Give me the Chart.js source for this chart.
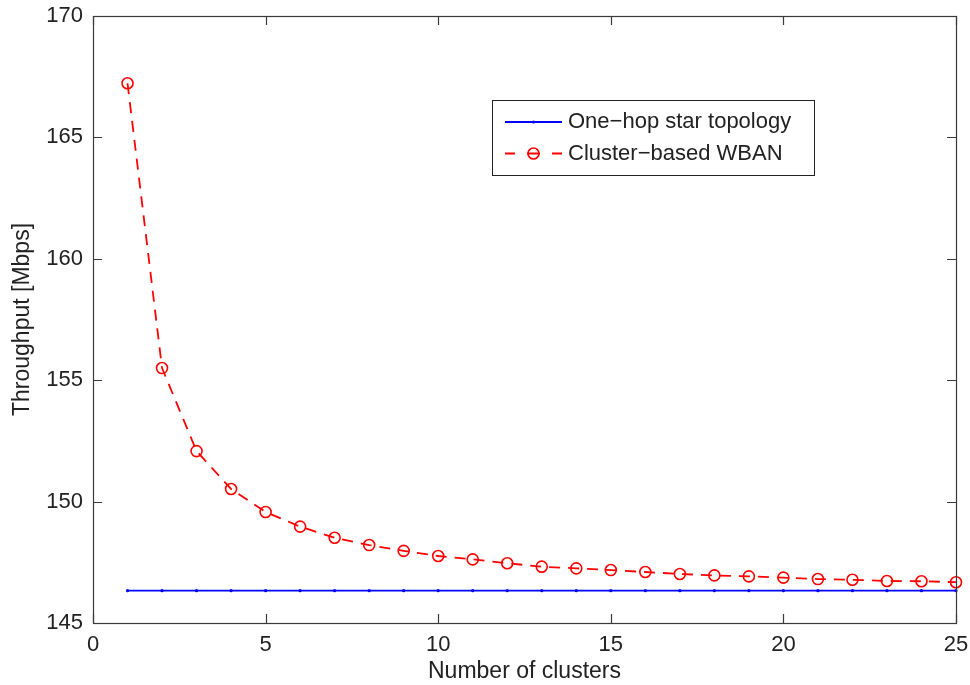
<!DOCTYPE html>
<html>
<head>
<meta charset="utf-8">
<script src="https://cdn.jsdelivr.net/npm/chart.js@4"></script>
<style>
  html, body { margin: 0; padding: 0; background: #fff; }
  #wrap { width: 970px; height: 685px; position: relative; }
</style>
</head>
<body>
<div id="wrap"><canvas id="c" width="970" height="685"></canvas></div>
<script>
// ---- data ----
const clusters = [1,2,3,4,5,6,7,8,9,10,11,12,13,14,15,16,17,18,19,20,21,22,23,24,25];
const starThroughput = [146.33,146.33,146.33,146.33,146.33,146.33,146.33,146.33,146.33,146.33,146.33,146.33,146.33,146.33,146.33,146.33,146.33,146.33,146.33,146.33,146.33,146.33,146.33,146.33,146.33];
const clusterThroughput = [167.23,155.5,152.08,150.52,149.57,148.97,148.51,148.21,147.97,147.76,147.62,147.46,147.32,147.25,147.18,147.1,147.02,146.96,146.92,146.87,146.81,146.78,146.73,146.72,146.68];
const seriesLabels = ['One\u2212hop star topology', 'Cluster\u2212based WBAN'];
const xTitle = 'Number of clusters';
const yTitle = 'Throughput [Mbps]';
const xRange = [0, 25];
const yRange = [145, 170];
const tickStep = 5;

const FONT = '"Liberation Sans", Arial, Helvetica, sans-serif';
const TXT = '#222';
const AX = '#3a3a3a';

const toPts = (xs, ys) => xs.map((x, i) => ({x: x, y: ys[i]}));

const boxPlugin = {
  id: 'matlabBox',
  afterDraw(chart) {
    const {ctx, chartArea: a, scales} = chart;
    ctx.save();
    ctx.strokeStyle = AX;
    ctx.lineWidth = 1.2;
    ctx.setLineDash([]);
    ctx.strokeRect(Math.round(a.left) + 0.5, Math.round(a.top) + 0.5, Math.round(a.right - a.left), Math.round(a.bottom - a.top));
    const tl = 9;
    ctx.beginPath();
    scales.x.ticks.forEach(t => {
      const px = Math.round(scales.x.getPixelForValue(t.value)) + 0.5;
      ctx.moveTo(px, a.bottom); ctx.lineTo(px, a.bottom - tl);
      ctx.moveTo(px, a.top); ctx.lineTo(px, a.top + tl);
    });
    scales.y.ticks.forEach(t => {
      const py = Math.round(scales.y.getPixelForValue(t.value)) + 0.5;
      ctx.moveTo(a.left, py); ctx.lineTo(a.left + tl, py);
      ctx.moveTo(a.right, py); ctx.lineTo(a.right - tl, py);
    });
    ctx.stroke();

    // legend
    const lx = 492.5, ly = 100.5, lw = 322, lh = 75;
    ctx.fillStyle = '#fff';
    ctx.fillRect(lx, ly, lw, lh);
    ctx.strokeStyle = '#222';
    ctx.lineWidth = 1;
    ctx.strokeRect(lx, ly, lw, lh);
    const y1 = 122, y2 = 153.5;
    const sx0 = 505, sx1 = 562, sc = 533.5;
    ctx.strokeStyle = '#0000ff';
    ctx.lineWidth = 1.8;
    ctx.beginPath(); ctx.moveTo(sx0, y1); ctx.lineTo(sx1, y1); ctx.stroke();
    ctx.fillStyle = '#0000ff';
    ctx.beginPath(); ctx.arc(sc, y1, 1.6, 0, Math.PI * 2); ctx.fill();
    ctx.strokeStyle = '#ff0000';
    ctx.beginPath();
    ctx.moveTo(sx0, y2); ctx.lineTo(515, y2);
    ctx.moveTo(527, y2); ctx.lineTo(540, y2);
    ctx.moveTo(552, y2); ctx.lineTo(sx1, y2);
    ctx.stroke();
    ctx.lineWidth = 1.6;
    ctx.beginPath(); ctx.arc(sc, y2, 5.5, 0, Math.PI * 2); ctx.stroke();
    ctx.fillStyle = TXT;
    ctx.font = '22px ' + FONT;
    ctx.textBaseline = 'middle';
    ctx.textAlign = 'left';
    ctx.fillText(seriesLabels[0], 568, y1);
    ctx.fillText(seriesLabels[1], 568, y2);
    ctx.restore();
  }
};

new Chart(document.getElementById('c'), {
  type: 'line',
  data: {
    datasets: [
      {
        label: seriesLabels[0],
        data: toPts(clusters, starThroughput),
        borderColor: '#0000ff',
        backgroundColor: '#0000ff',
        borderWidth: 1.8,
        pointRadius: 1.6,
        pointBorderWidth: 0,
        pointBackgroundColor: '#0000ff',
        tension: 0,
        clip: false
      },
      {
        label: seriesLabels[1],
        data: toPts(clusters, clusterThroughput),
        borderColor: '#ff0000',
        backgroundColor: 'transparent',
        borderWidth: 1.8,
        borderDash: [11, 8],
        pointStyle: 'circle',
        pointRadius: 5.5,
        pointBorderWidth: 1.6,
        pointBorderColor: '#ff0000',
        pointBackgroundColor: 'rgba(0,0,0,0)',
        tension: 0,
        clip: false
      }
    ]
  },
  options: {
    responsive: false,
    devicePixelRatio: 1,
    animation: false,
    layout: { padding: { top: 16, right: 14, left: 0, bottom: 0 } },
    plugins: { legend: { display: false }, tooltip: { enabled: false } },
    scales: {
      x: {
        type: 'linear',
        min: xRange[0], max: xRange[1],
        grid: { display: false, drawTicks: false },
        border: { display: false },
        ticks: { stepSize: tickStep, font: { size: 22, family: FONT }, color: TXT, padding: 9, maxRotation: 0 },
        title: { display: true, text: xTitle, font: { size: 23, family: FONT, lineHeight: 1.2 }, color: TXT, padding: { top: 0, bottom: 0 } },
        afterFit(s) { s.height = 62; s.paddingLeft = 0; s.paddingRight = 0; }
      },
      y: {
        type: 'linear',
        min: yRange[0], max: yRange[1],
        grid: { display: false, drawTicks: false },
        border: { display: false },
        ticks: { stepSize: tickStep, font: { size: 22, family: FONT }, color: TXT, padding: 10 },
        title: { display: true, text: yTitle, font: { size: 23, family: FONT, lineHeight: 1.2 }, color: TXT, padding: { top: 9, bottom: 0 } },
        afterFit(s) { s.width = 93; s.paddingTop = 0; s.paddingBottom = 0; }
      }
    }
  },
  plugins: [boxPlugin]
});
</script>
</body>
</html>
